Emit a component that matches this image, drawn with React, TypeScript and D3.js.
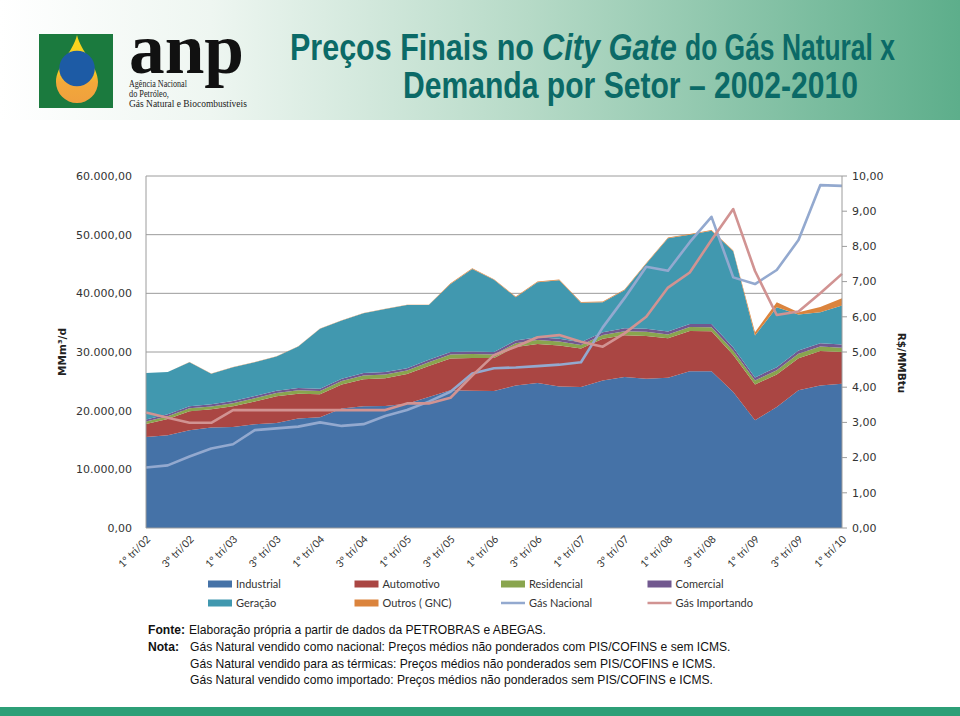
import React from "react";
import * as d3 from "d3";

// categories (quarters 2002-2010)
const quarters = [
  "1º tri/02", "2º tri/02", "3º tri/02", "4º tri/02",
  "1º tri/03", "2º tri/03", "3º tri/03", "4º tri/03",
  "1º tri/04", "2º tri/04", "3º tri/04", "4º tri/04",
  "1º tri/05", "2º tri/05", "3º tri/05", "4º tri/05",
  "1º tri/06", "2º tri/06", "3º tri/06", "4º tri/06",
  "1º tri/07", "2º tri/07", "3º tri/07", "4º tri/07",
  "1º tri/08", "2º tri/08", "3º tri/08", "4º tri/08",
  "1º tri/09", "2º tri/09", "3º tri/09", "4º tri/09",
  "1º tri/10",
];

// demanda por setor (left axis)
const industrial = [15520, 15810, 16660, 17120, 17220, 17680, 17900, 18650, 18870, 20350, 20740, 20790, 21200, 22320, 23460, 23380, 23340, 24310, 24700, 24140, 24020, 25160, 25720, 25450, 25620, 26740, 26740, 23200, 18360, 20620, 23460, 24310, 24600];
const automotivo = [2190, 2770, 3260, 3110, 3540, 3890, 4550, 4230, 3930, 4120, 4630, 4730, 5040, 5310, 5450, 5600, 5630, 6560, 6670, 6950, 6560, 7080, 7130, 7290, 6740, 6850, 6780, 6300, 6120, 5550, 5480, 5840, 5420];
const residencial = [450, 470, 480, 500, 520, 550, 550, 580, 570, 580, 620, 630, 600, 620, 660, 660, 600, 630, 680, 680, 620, 640, 700, 700, 630, 660, 720, 730, 660, 700, 760, 780, 700];
const comercial = [320, 330, 340, 350, 360, 370, 380, 390, 380, 400, 410, 420, 410, 430, 440, 450, 440, 460, 470, 480, 470, 490, 500, 510, 500, 520, 530, 540, 530, 550, 560, 570, 560];
const geracao = [7920, 7190, 7530, 5220, 5780, 5780, 5860, 7090, 10200, 9910, 10200, 10780, 10780, 9350, 11590, 14060, 12290, 7360, 9390, 9980, 6720, 5100, 6480, 11100, 15900, 15210, 15890, 16410, 7140, 10200, 6120, 5270, 6630];
const outros = [40, 40, 40, 40, 40, 40, 40, 40, 40, 40, 40, 40, 40, 40, 120, 120, 120, 120, 120, 120, 120, 120, 120, 120, 120, 120, 120, 120, 560, 850, 400, 900, 1250];

// preços (right axis, R$/MMBtu)
const gasNacional = [1.72, 1.78, 2.03, 2.26, 2.38, 2.78, 2.83, 2.88, 3.0, 2.9, 2.95, 3.18, 3.35, 3.59, 3.87, 4.39, 4.54, 4.56, 4.6, 4.64, 4.71, 5.7, 6.53, 7.42, 7.31, 8.12, 8.84, 7.12, 6.93, 7.33, 8.18, 9.74, 9.72];
const gasImportado = [3.28, 3.13, 2.99, 2.99, 3.35, 3.35, 3.35, 3.35, 3.35, 3.35, 3.35, 3.35, 3.54, 3.54, 3.7, 4.33, 4.91, 5.15, 5.42, 5.48, 5.29, 5.15, 5.53, 6.0, 6.83, 7.26, 8.18, 9.06, 7.3, 6.05, 6.15, 6.67, 7.22];

const sectors = ["Industrial", "Automotivo", "Residencial", "Comercial", "Geração", "Outros ( GNC)"];
const sectorColors = ["#4572A7", "#AA4643", "#89A54E", "#71588F", "#4198AF", "#DB843D"];
const lineNames = ["Gás Nacional", "Gás Importando"];
const lineColors = ["#93A9CF", "#D19392"];

const leftTicks = [0, 10000, 20000, 30000, 40000, 50000, 60000];
const rightTicks = [0, 1, 2, 3, 4, 5, 6, 7, 8, 9, 10];

const footer = [
  ["Fonte", "Elaboração própria a partir de dados da PETROBRAS e ABEGAS."],
  ["Nota", "Gás Natural vendido como nacional: Preços médios não ponderados com PIS/COFINS e sem ICMS."],
  ["", "Gás Natural vendido para as térmicas: Preços médios não ponderados sem PIS/COFINS e ICMS."],
  ["", "Gás Natural vendido como importado:  Preços médios não ponderados sem PIS/COFINS e ICMS."],
];

const ptBR = d3.formatLocale({ decimal: ",", thousands: ".", grouping: [3], currency: ["R$", ""] });
const fmt = ptBR.format(",.2f");

const axisFont = "'DejaVu Sans', Verdana, sans-serif";
const labelFont = "Lato, 'Open Sans', sans-serif";
const titleFont = "'Liberation Sans Narrow', 'Arial Narrow', 'Liberation Sans', sans-serif";
const serifFont = "'Liberation Serif', 'DejaVu Serif', serif";

// text squeezed horizontally to a given width (the narrow fonts are not installed)
const FitText = ({ x, y, width, children, ...rest }: any) => {
  const ref = React.useRef<SVGTextElement>(null);
  const [sx, setSx] = React.useState(1);
  React.useLayoutEffect(() => {
    const w = ref.current ? ref.current.getComputedTextLength() : 0;
    if (w > 0) setSx(width / w);
  }, [width]);
  return (
    <g transform={`translate(${x},${y}) scale(${sx},1)`}>
      <text ref={ref} {...rest}>{children}</text>
    </g>
  );
};

export default function App() {
  const plot = { left: 146, right: 842, top: 176, bottom: 528 };
  const x = d3.scalePoint<string>().domain(quarters).range([plot.left, plot.right]);
  const yL = d3.scaleLinear().domain([0, 60000]).range([plot.bottom, plot.top]);
  const yR = d3.scaleLinear().domain([0, 10]).range([plot.bottom, plot.top]);

  const columns = [industrial, automotivo, residencial, comercial, geracao, outros];
  const rows = quarters.map((q, i) => {
    const r: any = { q };
    sectors.forEach((s, k) => (r[s] = columns[k][i]));
    return r;
  });
  const stacked = d3.stack<any>().keys(sectors)(rows);
  const area = d3
    .area<any>()
    .x(d => x(d.data.q) as number)
    .y0(d => yL(d[0]))
    .y1(d => yL(d[1]));
  const line = d3
    .line<number>()
    .x((_, i) => x(quarters[i]) as number)
    .y(d => yR(d));

  const labelled = quarters.filter((_, i) => i % 2 === 0);

  return (
    <svg width={960} height={716} style={{ position: "absolute", left: 0, top: 0 }}>
      <defs>
        <linearGradient id="hdr" x1="0" x2="1" y1="0" y2="0">
          <stop offset="0" stopColor="#ffffff" />
          <stop offset="0.22" stopColor="#eef6f1" />
          <stop offset="0.55" stopColor="#b6dac7" />
          <stop offset="1" stopColor="#5dae8b" />
        </linearGradient>
        <linearGradient id="drop" x1="0" x2="0" y1="0" y2="1">
          <stop offset="0" stopColor="#f9d81a" />
          <stop offset="0.55" stopColor="#f6c627" />
          <stop offset="0.7" stopColor="#f2a83a" />
          <stop offset="1" stopColor="#f0a03e" />
        </linearGradient>
      </defs>
      <rect width={960} height={716} fill="#ffffff" />

      {/* header */}
      <rect x={0} y={0} width={960} height={120} fill="url(#hdr)" />
      <rect x={39} y={34} width={74} height={74} fill="#1b7a3e" />
      <path d="M77,35 C81,52 98,66 98,82 A21,21 0 1 1 56,82 C56,66 73,52 77,35 Z" fill="url(#drop)" />
      <circle cx={77} cy={68.5} r={17.8} fill="#1d5ba5" />
      <FitText x={129} y={73} width={115} fontFamily={serifFont} fontWeight="bold" fontSize={72} fill="#111">anp</FitText>
      <g fill="#222">
        <FitText x={129} y={87} width={58} fontFamily={serifFont} fontSize={9.5}>Agência Nacional</FitText>
        <FitText x={129} y={97} width={40} fontFamily={serifFont} fontSize={9.5}>do Petróleo,</FitText>
        <FitText x={129} y={107} width={118} fontFamily={serifFont} fontSize={9.5}>Gás Natural e Biocombustíveis</FitText>
      </g>
      <g fill="#0b6a67">
        <FitText x={290} y={60} width={244} fontFamily={titleFont} fontWeight="bold" fontSize={37}>Preços Finais no</FitText>
        <FitText x={542} y={60} width={135} fontFamily={titleFont} fontWeight="bold" fontStyle="italic" fontSize={37}>City Gate</FitText>
        <FitText x={685} y={60} width={210} fontFamily={titleFont} fontWeight="bold" fontSize={37}>do Gás Natural x</FitText>
        <FitText x={403} y={98} width={455} fontFamily={titleFont} fontWeight="bold" fontSize={37}>Demanda por Setor – 2002-2010</FitText>
      </g>

      {/* gridlines */}
      {leftTicks.slice(1).map(t => (
        <line key={t} x1={plot.left} x2={plot.right} y1={yL(t)} y2={yL(t)} stroke="#9c9c9c" strokeWidth={1} />
      ))}

      {/* stacked areas */}
      {stacked.map((s, k) => (
        <path key={s.key} d={area(s) as string} fill={sectorColors[k]} />
      ))}

      {/* price lines */}
      <path d={line(gasNacional) as string} fill="none" stroke={lineColors[0]} strokeWidth={2.6} strokeLinejoin="round" />
      <path d={line(gasImportado) as string} fill="none" stroke={lineColors[1]} strokeWidth={2.6} strokeLinejoin="round" />

      {/* axes */}
      <line x1={plot.left} x2={plot.left} y1={plot.top} y2={plot.bottom} stroke="#9c9c9c" />
      <line x1={plot.right} x2={plot.right} y1={plot.top} y2={plot.bottom} stroke="#9c9c9c" />
      <line x1={plot.left} x2={plot.right} y1={plot.bottom} y2={plot.bottom} stroke="#9c9c9c" />
      <g fontFamily={axisFont} fontSize={11} fill="#333">
        {leftTicks.map(t => (
          <text key={t} x={plot.left - 14} y={yL(t)} dy="0.35em" textAnchor="end">{fmt(t)}</text>
        ))}
        {rightTicks.map(t => (
          <g key={t}>
            <line x1={plot.right} x2={plot.right + 5} y1={yR(t)} y2={yR(t)} stroke="#9c9c9c" />
            <text x={plot.right + 10} y={yR(t)} dy="0.35em">{fmt(t)}</text>
          </g>
        ))}
      </g>
      <text transform="translate(66,352) rotate(-90)" textAnchor="middle" fontFamily={axisFont} fontWeight="bold" fontSize={10.5} fill="#222">
        MMm³/d
      </text>
      <text transform="translate(898,363) rotate(90)" textAnchor="middle" fontFamily={axisFont} fontWeight="bold" fontSize={10.5} fill="#222">
        R$/MMBtu
      </text>

      {/* x labels */}
      <g fontFamily={labelFont} fontSize={10.5} fill="#333">
        {labelled.map(q => (
          <text key={q} transform={`translate(${(x(q) as number) + 5},540) rotate(-45)`} textAnchor="end">{q}</text>
        ))}
      </g>

      {/* legend */}
      <g fontFamily={labelFont} fontSize={11} fill="#333">
        {sectors.map((s, k) => {
          const col = k % 4, row = Math.floor(k / 4);
          const lx = 208 + col * 146.5, ly = 584 + row * 19;
          return (
            <g key={s}>
              <rect x={lx} y={ly - 3.5} width={24} height={7} fill={sectorColors[k]} />
              <text x={lx + 28} y={ly} dy="0.35em">{s}</text>
            </g>
          );
        })}
        {lineNames.map((s, k) => {
          const col = k + 2;
          const lx = 208 + col * 146.5, ly = 603;
          return (
            <g key={s}>
              <line x1={lx} x2={lx + 24} y1={ly} y2={ly} stroke={lineColors[k]} strokeWidth={2.5} />
              <text x={lx + 28} y={ly} dy="0.35em">{s}</text>
            </g>
          );
        })}
      </g>

      {/* footer */}
      <g fontFamily="'Liberation Sans', Arial, sans-serif" fontSize={12.1} fill="#111">
        {footer.map(([head, body], i) => (
          <g key={i}>
            {head && <text x={148} y={634 + i * 16.8} fontWeight="bold">{head}:</text>}
            <text x={head === "Fonte" ? 189 : 190} y={634 + i * 16.8}>{body}</text>
          </g>
        ))}
      </g>
      <rect x={0} y={707} width={960} height={9} fill="#2d9f77" />
    </svg>
  );
}
